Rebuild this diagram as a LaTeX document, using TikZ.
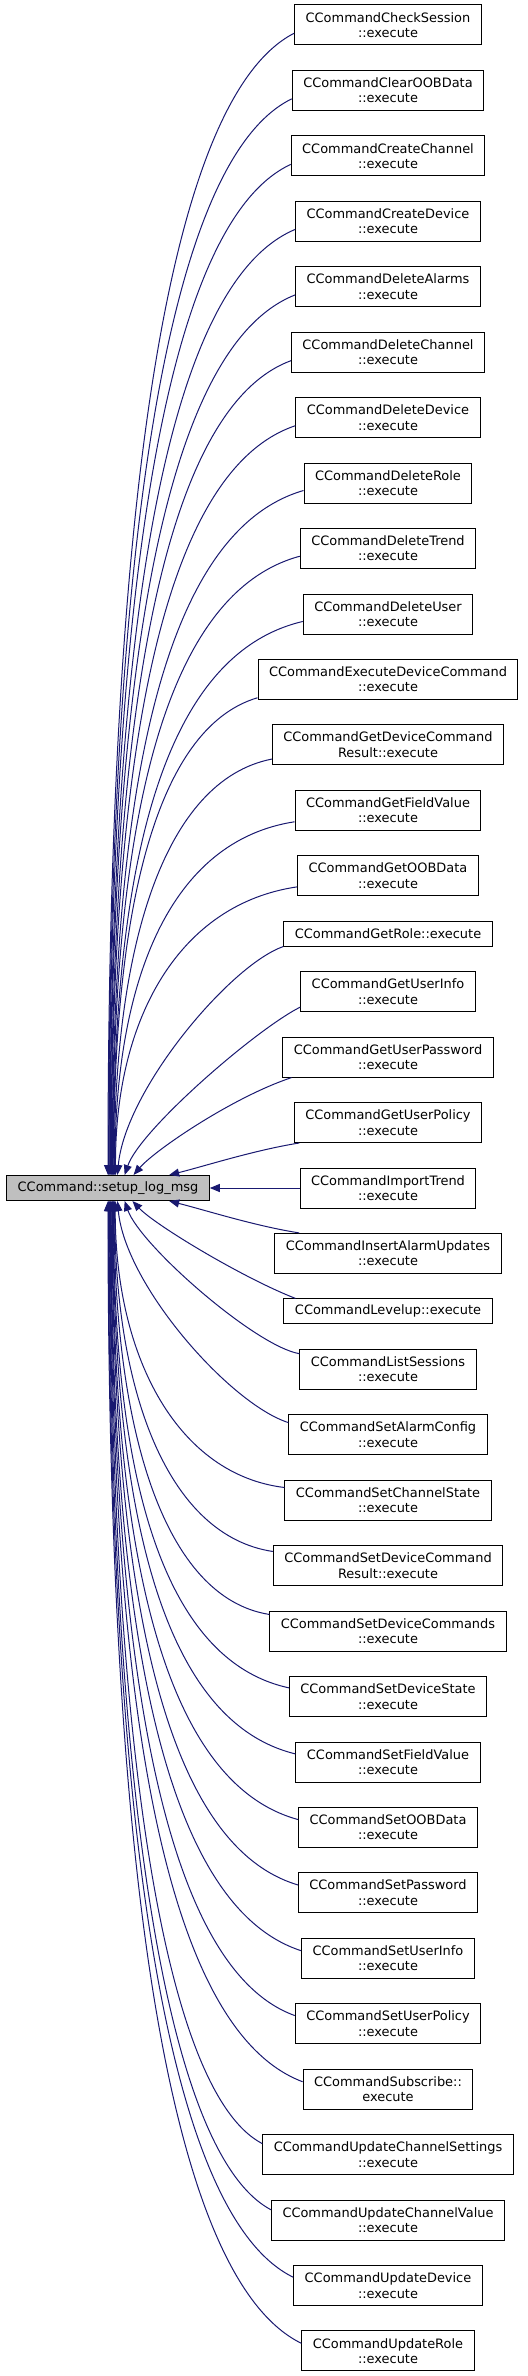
\documentclass[tikz,border=0pt]{standalone}
\usepackage{fontspec}
\setmainfont{DejaVu Sans}
\usepackage{tikz}
\usetikzlibrary{arrows.meta}
\definecolor{edgeblue}{RGB}{25, 25, 112}
\definecolor{callergrey}{RGB}{191, 191, 191}

\begin{document}
\begin{tikzpicture}[x=0.75pt, y=-0.75pt,
    fn/.style={draw=black, line width=0.75pt, align=center, inner xsep=8.25pt, inner ysep=1pt,
        minimum height=30pt, font=\fontsize{9.7}{11.5}\selectfont},
    fnone/.style={fn, minimum height=18.75pt},
    calledge/.style={draw=edgeblue, line width=0.75pt, arrows={Triangle[length=7.5pt, width=6pt]-}}]
    \useasboundingbox (0,0) rectangle (528,2376);
    % the called function
    \node[fnone, fill=callergrey] (main) at (108,1188) {CCommand::setup\_log\_msg};
    % callers
    \node[fn] (checksession) at (388,25) {CCommandCheckSession\\::execute};
    \node[fn] (clearoobdata) at (388,90.4) {CCommandClearOOBData\\::execute};
    \node[fn] (createchannel) at (388,155.9) {CCommandCreateChannel\\::execute};
    \node[fn] (createdevice) at (388,221.3) {CCommandCreateDevice\\::execute};
    \node[fn] (deletealarms) at (388,286.8) {CCommandDeleteAlarms\\::execute};
    \node[fn] (deletechannel) at (388,352.2) {CCommandDeleteChannel\\::execute};
    \node[fn] (deletedevice) at (388,417.6) {CCommandDeleteDevice\\::execute};
    \node[fn] (deleterole) at (388,483.1) {CCommandDeleteRole\\::execute};
    \node[fn] (deletetrend) at (388,548.5) {CCommandDeleteTrend\\::execute};
    \node[fn] (deleteuser) at (388,614) {CCommandDeleteUser\\::execute};
    \node[fn] (executedevcmd) at (388,679.4) {CCommandExecuteDeviceCommand\\::execute};
    \node[fn] (getdevcmdresult) at (388,744.8) {CCommandGetDeviceCommand\\Result::execute};
    \node[fn] (getfieldvalue) at (388,810.3) {CCommandGetFieldValue\\::execute};
    \node[fn] (getoobdata) at (388,875.7) {CCommandGetOOBData\\::execute};
    \node[fnone] (getrole) at (388,933.7) {CCommandGetRole::execute};
    \node[fn] (getuserinfo) at (388,991.6) {CCommandGetUserInfo\\::execute};
    \node[fn] (getuserpassword) at (388,1057.1) {CCommandGetUserPassword\\::execute};
    \node[fn] (getuserpolicy) at (388,1122.5) {CCommandGetUserPolicy\\::execute};
    \node[fn] (importtrend) at (388,1188) {CCommandImportTrend\\::execute};
    \node[fn] (insertalarmupdates) at (388,1253.4) {CCommandInsertAlarmUpdates\\::execute};
    \node[fnone] (levelup) at (388,1311.4) {CCommandLevelup::execute};
    \node[fn] (listsessions) at (388,1369.3) {CCommandListSessions\\::execute};
    \node[fn] (setalarmconfig) at (388,1434.8) {CCommandSetAlarmConfig\\::execute};
    \node[fn] (setchannelstate) at (388,1500.2) {CCommandSetChannelState\\::execute};
    \node[fn] (setdevcmdresult) at (388,1565.6) {CCommandSetDeviceCommand\\Result::execute};
    \node[fn] (setdevcmds) at (388,1631.1) {CCommandSetDeviceCommands\\::execute};
    \node[fn] (setdevicestate) at (388,1696.5) {CCommandSetDeviceState\\::execute};
    \node[fn] (setfieldvalue) at (388,1762) {CCommandSetFieldValue\\::execute};
    \node[fn] (setoobdata) at (388,1827.4) {CCommandSetOOBData\\::execute};
    \node[fn] (setpassword) at (388,1892.8) {CCommandSetPassword\\::execute};
    \node[fn] (setuserinfo) at (388,1958.3) {CCommandSetUserInfo\\::execute};
    \node[fn] (setuserpolicy) at (388,2023.7) {CCommandSetUserPolicy\\::execute};
    \node[fn] (subscribe) at (388,2089.2) {CCommandSubscribe::\\execute};
    \node[fn] (updchsettings) at (388,2154.6) {CCommandUpdateChannelSettings\\::execute};
    \node[fn] (updchvalue) at (388,2220) {CCommandUpdateChannelValue\\::execute};
    \node[fn] (updatedevice) at (388,2285.5) {CCommandUpdateDevice\\::execute};
    \node[fn] (updaterole) at (388,2350.9) {CCommandUpdateRole\\::execute};
    % calls from above
    \draw[calledge] (main.90) .. controls (108,547) and (160,102) .. (checksession.185);
    \draw[calledge] (main.87.5) .. controls (108.5,583) and (160,163) .. (clearoobdata.185);
    \draw[calledge] (main.85) .. controls (109,619) and (160,225) .. (createchannel.185);
    \draw[calledge] (main.82.5) .. controls (110,655) and (160,286) .. (createdevice.185);
    \draw[calledge] (main.80) .. controls (110,691) and (160,348) .. (deletealarms.185);
    \draw[calledge] (main.77.6) .. controls (111,727) and (160,409) .. (deletechannel.185);
    \draw[calledge] (main.75.2) .. controls (111,763) and (160,471) .. (deletedevice.185);
    \draw[calledge] (main.72.9) .. controls (112,799) and (160,532) .. (deleterole.185);
    \draw[calledge] (main.70.6) .. controls (112,835) and (160,594) .. (deletetrend.185);
    \draw[calledge] (main.68.4) .. controls (113,871) and (160,655) .. (deleteuser.185);
    \draw[calledge] (main.66.3) .. controls (113,913) and (155,728) .. (executedevcmd.188);
    \draw[calledge] (main.64.2) .. controls (114,944) and (165,780) .. (getdevcmdresult.187);
    \draw[calledge] (main.62.2) .. controls (115,980) and (170,841) .. (getfieldvalue.187);
    \draw[calledge] (main.60.2) .. controls (115,1017) and (180,904) .. (getoobdata.187);
    \draw[calledge] (main.54) .. controls (125,1090) and (230,965) .. (getrole.187);
    \draw[calledge] (main.38) .. controls (140,1130) and (255,1030) .. (getuserinfo.190);
    \draw[calledge] (main.27.5) .. controls (155,1150) and (233,1097) .. (getuserpassword.192);
    \draw[calledge] (main.12) .. controls (205,1166) and (255,1150) .. (getuserpolicy.193);
    \draw[calledge] (main) -- (importtrend);
    % calls from below
    \draw[calledge] (main.348) .. controls (205,1210) and (255,1226) .. (insertalarmupdates.167);
    \draw[calledge] (main.332.5) .. controls (155,1225) and (243,1278) .. (levelup.172);
    \draw[calledge] (main.322) .. controls (140,1245) and (255,1346) .. (listsessions.170);
    \draw[calledge] (main.306) .. controls (125,1285) and (230,1404) .. (setalarmconfig.173);
    \draw[calledge] (main.299.8) .. controls (115,1361) and (180,1475) .. (setchannelstate.173);
    \draw[calledge] (main.297.8) .. controls (115,1397) and (170,1536) .. (setdevcmdresult.173);
    \draw[calledge] (main.295.8) .. controls (114,1433) and (165,1598) .. (setdevcmds.172);
    \draw[calledge] (main.293.7) .. controls (113,1469) and (160,1660) .. (setdevicestate.175);
    \draw[calledge] (main.291.6) .. controls (113,1505) and (160,1721) .. (setfieldvalue.175);
    \draw[calledge] (main.289.4) .. controls (112,1541) and (160,1782) .. (setoobdata.175);
    \draw[calledge] (main.287.1) .. controls (112,1577) and (160,1844) .. (setpassword.175);
    \draw[calledge] (main.284.8) .. controls (111,1613) and (160,1905) .. (setuserinfo.175);
    \draw[calledge] (main.282.4) .. controls (111,1649) and (160,1967) .. (setuserpolicy.175);
    \draw[calledge] (main.280) .. controls (110,1685) and (160,2028) .. (subscribe.175);
    \draw[calledge] (main.277.5) .. controls (110,1721) and (160,2090) .. (updchsettings.175);
    \draw[calledge] (main.275) .. controls (109,1757) and (160,2151) .. (updchvalue.175);
    \draw[calledge] (main.272.5) .. controls (108.5,1793) and (160,2212) .. (updatedevice.175);
    \draw[calledge] (main.270) .. controls (108,1829) and (160,2274) .. (updaterole.175);
\end{tikzpicture}
\end{document}
